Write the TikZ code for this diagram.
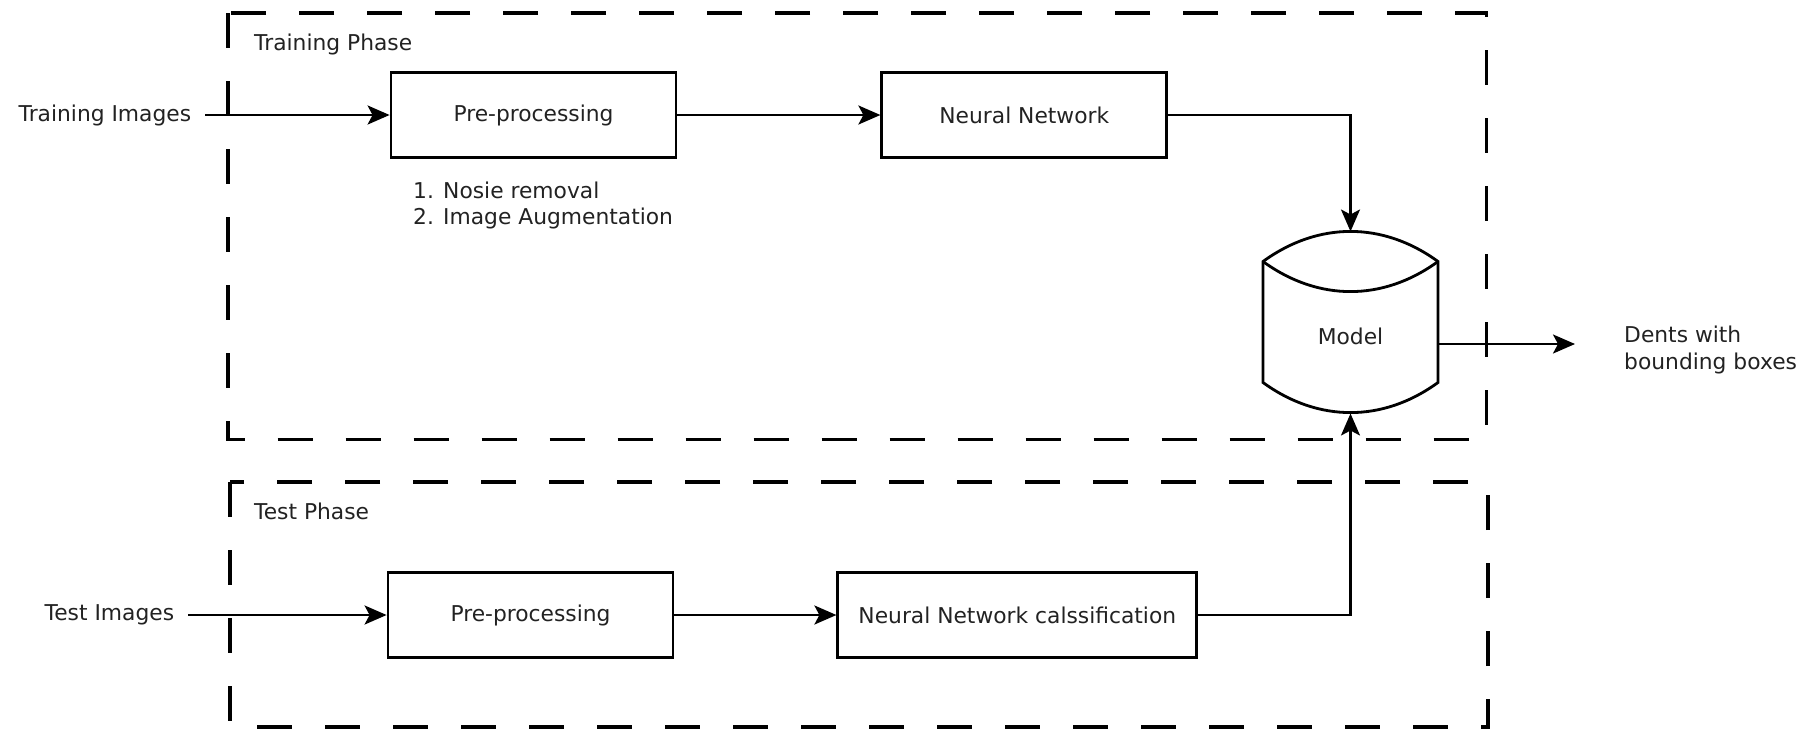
\documentclass[tikz,border=0pt]{standalone}
\usepackage{fontspec}
\setmainfont{DejaVu Sans}
\usetikzlibrary{positioning,arrows.meta}
\definecolor{txtgray}{HTML}{222222}
\tikzset{
    stage/.style={draw=black, line width=1.6pt, minimum width=5.7cm, minimum height=1.7cm, inner sep=0mm},
    phase/.style={draw=black, line width=2.1pt, dash pattern=on 0.70cm off 0.66cm},
    flow/.style={line width=1.4pt, -{Stealth[length=0.44cm, width=0.38cm, inset=0.1cm]}},
    inlabel/.style={anchor=east, inner xsep=0.27cm},
    every node/.style={text=txtgray},
    node distance=4.06cm
}
\begin{document}
\begin{tikzpicture}[font=\fontsize{12.4}{15.2}\selectfont]
			\useasboundingbox (0,0) rectangle (36.08,-14.6);
			\draw[phase] (4.56,-0.26) rectangle (29.73,-8.79);
			\draw[phase] (4.60,-9.64) rectangle (29.76,-14.54);
			\node[anchor=west] (trainphase) at (4.96,-0.88) {Training Phase};
			\node[anchor=west] (testphase) at (4.96,-10.22) {Test Phase};

			\node[stage] (pre1) at (10.67,-2.30) {Pre-processing};
			\node[stage, right = of pre1] (nn) {Neural Network};
			\node[anchor=west, align=left] (steps) at (8.14,-4.11) {1. Nosie removal\\2. Image Augmentation};
			\node[inlabel] (trainimg) at (4.10,-2.30) {Training Images};

			\node[stage] (pre2) at (10.61,-12.30) {Pre-processing};
			\node[stage, minimum width=7.18cm, right = 3.24cm of pre2] (nnc) {Neural Network calssification};
			\node[inlabel] (testimg) at (3.76,-12.30) {Test Images};

			\draw[line width=1.6pt] (25.26,-7.65) -- (25.26,-5.23) to[bend left=36] (28.76,-5.23) -- (28.76,-7.65) to[bend left=36] cycle;
			\draw[line width=1.6pt] (25.26,-5.23) to[bend right=36] (28.76,-5.23);
			\node (model) at (27.01,-6.73) {Model};
			\coordinate (modeltop) at (27.01,-4.63);
			\coordinate (modelbot) at (27.01,-8.27);
			\coordinate (modelout) at (28.76,-6.88);
			\coordinate (outtip) at (31.50,-6.88);
			\node[anchor=west, align=left] (dents) at (32.36,-7.00) {Dents with\\bounding boxes};

			\draw[flow] (trainimg) -- (pre1);
			\draw[flow] (pre1) -- (nn);
			\draw[flow] (nn) -| (modeltop);
			\draw[flow] (testimg) -- (pre2);
			\draw[flow] (pre2) -- (nnc);
			\draw[flow] (nnc) -| (modelbot);
			\draw[flow] (modelout) -- (outtip);
		\end{tikzpicture}
\end{document}
